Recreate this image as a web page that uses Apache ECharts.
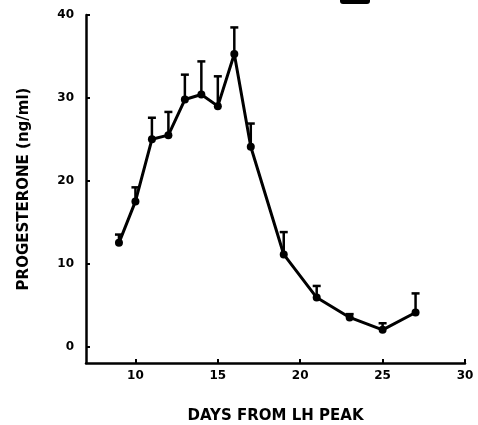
<!DOCTYPE html>
<html>
<head>
<meta charset="UTF-8">
<title>Progesterone</title>
<script src="https://cdn.jsdelivr.net/npm/echarts@6/dist/echarts.min.js"></script>
<style>
  html, body { margin: 0; background: #fff; }
  #chart { width: 478px; height: 425px; }
</style>
</head>
<body>
<div id="chart"></div>
<script>
  // values
  const days = [9, 10, 11, 12, 13, 14, 15, 16, 17, 19, 21, 23, 25, 27];
  const progesterone = [12.5, 17.5, 25, 25.5, 29.8, 30.4, 29, 35.3, 24.1, 11.1, 5.9, 3.5, 2.0, 4.1];
  const errorTop = [13.5, 19.2, 27.6, 28.3, 32.8, 34.4, 32.6, 38.5, 26.9, 13.8, 7.3, 3.9, 2.8, 6.4];
  const xTicks = [10, 15, 20, 25, 30];
  const yTicks = [0, 10, 20, 30, 40];

  const ink = '#000';
  const labelFont = { color: ink, fontFamily: 'DejaVu Sans', fontWeight: 'bold', fontSize: 12 };
  const nameFont = { color: ink, fontFamily: 'DejaVu Sans', fontWeight: 'bold', fontSize: 15 };

  const chart = echarts.init(document.getElementById('chart'));

  // upper error bars with a cap
  function renderError(params, api) {
    const base = api.coord([api.value(0), api.value(1)]);
    const top = api.coord([api.value(0), api.value(2)]);
    const cap = 4;
    return {
      type: 'group',
      children: [
        { type: 'line', shape: { x1: base[0], y1: base[1], x2: top[0], y2: top[1] },
          style: { stroke: ink, lineWidth: 2.5 } },
        { type: 'line', shape: { x1: top[0] - cap, y1: top[1], x2: top[0] + cap, y2: top[1] },
          style: { stroke: ink, lineWidth: 2.5 } }
      ]
    };
  }

  chart.setOption({
    animation: false,
    grid: { left: 86, right: 13, top: 15, bottom: 62, containLabel: false, outerBoundsMode: 'none' },
    xAxis: {
      type: 'value', min: 7, max: 30,
      name: 'DAYS FROM LH PEAK', nameLocation: 'middle', nameGap: 46,
      nameTextStyle: nameFont,
      axisLine: { show: true, onZero: false, lineStyle: { color: ink, width: 2.5 } },
      axisTick: { show: true, inside: true, length: 4, lineStyle: { color: ink, width: 2 }, customValues: xTicks },
      axisLabel: Object.assign({}, labelFont, { margin: 7, customValues: xTicks }),
      splitLine: { show: false }
    },
    yAxis: {
      type: 'value', min: -2, max: 40,
      name: 'PROGESTERONE (ng/ml)', nameLocation: 'middle', nameGap: 54, nameRotate: 90,
      nameTextStyle: nameFont,
      axisLine: { show: true, lineStyle: { color: ink, width: 2.5 } },
      axisTick: { show: true, inside: true, length: 4, lineStyle: { color: ink, width: 2 }, customValues: yTicks },
      axisLabel: Object.assign({}, labelFont, { margin: 12, customValues: yTicks }),
      splitLine: { show: false }
    },
    graphic: [
      { type: 'rect', left: 340, top: -4, shape: { width: 30, height: 8, r: 3 }, style: { fill: ink } }
    ],
    series: [
      {
        type: 'custom',
        renderItem: renderError,
        data: days.map((d, i) => [d, progesterone[i], errorTop[i]]),
        z: 2
      },
      {
        type: 'line',
        data: days.map((d, i) => [d, progesterone[i]]),
        symbol: 'circle', symbolSize: 8,
        itemStyle: { color: ink },
        lineStyle: { color: ink, width: 3 },
        z: 3
      }
    ]
  });
</script>
</body>
</html>
